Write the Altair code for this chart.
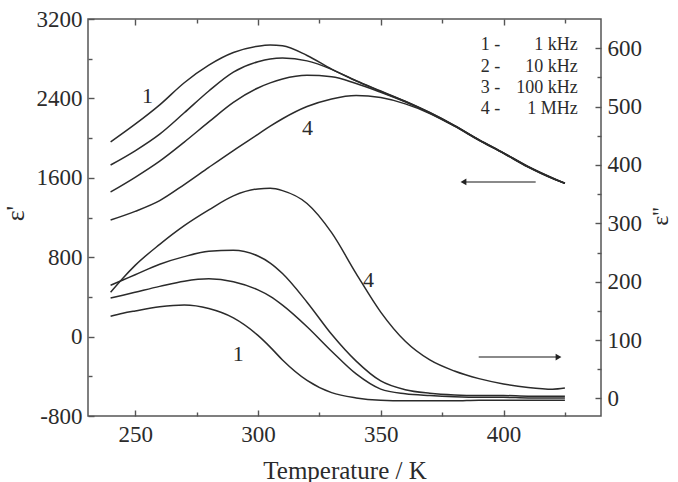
import altair as alt
import pandas as pd

# ---- data -------------------------------------------------------------
FREQS = ["1 kHz", "10 kHz", "100 kHz", "1 MHz"]

# real part eps' (left axis)
T_REAL = [240, 250, 260, 270, 280, 290, 300, 305, 310, 320, 330,
          340, 350, 360, 370, 380, 390, 400, 410, 420, 425]
EPS_REAL_1K = [1961, 2140, 2335, 2558, 2735, 2862, 2926, 2938, 2930, 2832, 2695,
               2578, 2475, 2372, 2258, 2128, 1985, 1852, 1714, 1598, 1545]
EPS_REAL_10K = [1729, 1872, 2040, 2255, 2475, 2665, 2770, 2798, 2806, 2778, 2693,
                2576, 2470, 2369, 2255, 2126, 1983, 1850, 1712, 1596, 1545]
EPS_REAL_100K = [1457, 1605, 1768, 1960, 2163, 2360, 2505, 2556, 2595, 2632, 2618,
                 2550, 2462, 2365, 2252, 2123, 1980, 1848, 1710, 1594, 1545]
EPS_REAL_1M = [1175, 1262, 1370, 1532, 1705, 1875, 2038, 2120, 2195, 2318, 2395,
               2430, 2408, 2345, 2248, 2120, 1978, 1846, 1708, 1592, 1545]

# imaginary part eps'' (right axis)
T_IMAG = [240, 245, 250, 260, 270, 280, 290, 300, 305, 310, 320, 330,
          340, 350, 360, 370, 380, 390, 400, 410, 420, 425]
EPS_IMAG_1K = [141, 146, 150, 157, 160, 154, 138, 108, 88, 66, 31, 10,
               1, -3, -4, -4, -4, -3, -3, -3, -3, -3]
EPS_IMAG_10K = [172, 177, 182, 192, 201, 205, 200, 186, 175, 160, 123, 81,
                42, 16, 8, 5, 3, 2, 2, 1, 1, 1]
EPS_IMAG_100K = [194, 203, 212, 230, 243, 252, 254, 244, 232, 214, 165, 110,
                 64, 30, 15, 9, 6, 5, 5, 4, 4, 4]
EPS_IMAG_1M = [182, 206, 228, 264, 296, 323, 347, 359, 360, 356, 334, 284,
               214, 148, 98, 66, 47, 34, 25, 19, 16, 18]

# legend rows and curve tags
LEGEND_NUM = ["1 -", "2 -", "3 -", "4 -"]
LEGEND_NUM_T = 390.7
LEGEND_FREQ_T = 430.2
LEGEND_Y = [2938, 2716, 2505, 2293]
TAGS_REAL = ["1", "4"]
TAGS_REAL_T = [255, 320.2]
TAGS_REAL_V = [2424, 2102]
TAGS_IMAG = ["4", "1"]
TAGS_IMAG_T = [345, 292]
TAGS_IMAG_V = [203, 76]

# direction arrows (which axis each family belongs to)
ARROW_REAL_T = [383.7, 413.1]
ARROW_REAL_V = 1558
ARROW_IMAG_T = [389.9, 422.4]
ARROW_IMAG_V = 71

# ---- tables -----------------------------------------------------------
def long_table(t, series):
    rows = []
    for name, vals in series.items():
        for x, v in zip(t, vals):
            rows.append({"T": x, "v": v, "curve": name})
    return pd.DataFrame(rows)

real_df = long_table(T_REAL, dict(zip(FREQS, [EPS_REAL_1K, EPS_REAL_10K,
                                               EPS_REAL_100K, EPS_REAL_1M])))
imag_df = long_table(T_IMAG, dict(zip(FREQS, [EPS_IMAG_1K, EPS_IMAG_10K,
                                               EPS_IMAG_100K, EPS_IMAG_1M])))
legend_df = pd.DataFrame({"num": LEGEND_NUM, "freq": FREQS, "v": LEGEND_Y,
                          "tn": [LEGEND_NUM_T] * 4, "tf": [LEGEND_FREQ_T] * 4})
tag_real_df = pd.DataFrame({"t": TAGS_REAL, "T": TAGS_REAL_T, "v": TAGS_REAL_V})
tag_imag_df = pd.DataFrame({"t": TAGS_IMAG, "T": TAGS_IMAG_T, "v": TAGS_IMAG_V})
arrow_real_df = pd.DataFrame({"T": [ARROW_REAL_T[0]], "T2": [ARROW_REAL_T[1]],
                              "v": [ARROW_REAL_V]})
arrow_imag_df = pd.DataFrame({"T": [ARROW_IMAG_T[0]], "T2": [ARROW_IMAG_T[1]],
                              "v": [ARROW_IMAG_V]})

# ---- styling ------------------------------------------------------------
FONT = "Liberation Serif"
INK = "#2b2b2b"
FRAME = "#555555"
PLAIN_NUMBER = "'' + datum.value"   # keeps an ASCII hyphen for negatives

x_scale = alt.Scale(domain=[230.8, 439.7], nice=False, zero=False)
y_real = alt.Scale(domain=[-800, 3200], nice=False, zero=False)
y_imag = alt.Scale(domain=[-30, 650], nice=False, zero=False)


def tick_axis(orient, values, size, **kw):
    """Axis drawing inward ticks only (no labels, no domain)."""
    opts = dict(orient=orient, values=values, labels=False, title=None,
                domain=False, grid=False, tickSize={"expr": str(-size)},
                tickColor=FRAME, tickWidth=1.4)
    opts.update(kw)
    return alt.Axis(**opts)


line_style = dict(color=INK, strokeWidth=1.5, interpolate="monotone")

real_lines = alt.Chart(real_df).mark_line(**line_style).encode(
    x=alt.X("T:Q", scale=x_scale, axis=alt.Axis(
        orient="bottom", values=[250, 300, 350, 400], title="Temperature / K",
        labelExpr=PLAIN_NUMBER, domain=False, grid=False,
        tickSize={"expr": "-6"}, tickColor=FRAME, tickWidth=1.4,
        labelPadding=13, labelFont=FONT, labelFontSize=23, labelColor=INK,
        titleFont=FONT, titleFontSize=25, titleFontWeight="normal",
        titleColor=INK, titleBaseline="alphabetic", titleY=62)),
    y=alt.Y("v:Q", scale=y_real, axis=alt.Axis(
        orient="left", values=[-800, 0, 800, 1600, 2400, 3200], title="ε'",
        labelExpr=PLAIN_NUMBER, domain=False, grid=False,
        tickSize={"expr": "-6"}, tickColor=FRAME, tickWidth=1.4,
        labelPadding=12, labelFont=FONT, labelFontSize=23, labelColor=INK,
        titleFont=FONT, titleFontSize=26, titleFontWeight="normal",
        titleColor=INK, titleAngle=270, titleBaseline="alphabetic",
        titleX=-65, titleY=194)),
    detail="curve:N",
)

imag_lines = alt.Chart(imag_df).mark_line(**line_style).encode(
    x=alt.X("T:Q", scale=x_scale,
            axis=tick_axis("top", [250, 300, 350, 400], 6)),
    y=alt.Y("v:Q", scale=y_imag, axis=alt.Axis(
        orient="right", values=[0, 100, 200, 300, 400, 500, 600], title="ε''",
        labelExpr=PLAIN_NUMBER, domain=False, grid=False,
        tickSize={"expr": "-6"}, tickColor=FRAME, tickWidth=1.4,
        labelPadding=12, labelFont=FONT, labelFontSize=23, labelColor=INK,
        titleFont=FONT, titleFontSize=24, titleFontWeight="normal",
        titleColor=INK, titleAngle=270, titleBaseline="alphabetic",
        titleX=66, titleY=197)),
    detail="curve:N",
)

# arrows: the one for eps' also carries the bottom/left minor ticks,
# the one for eps'' carries the top/right minor ticks
arrow_real = alt.Chart(arrow_real_df).mark_rule(color="#8a8a8a", strokeWidth=2).encode(
    x=alt.X("T:Q", scale=x_scale,
            axis=tick_axis("bottom", [275, 325, 375, 425], 4)),
    x2="T2:Q",
    y=alt.Y("v:Q", scale=y_real,
            axis=tick_axis("left", [-400, 400, 1200, 2000, 2800], 4)),
)
arrow_real_head = alt.Chart(arrow_real_df).mark_point(
    shape="triangle-left", filled=True, color="#222", size=45, opacity=1).encode(
    x=alt.X("T:Q", scale=x_scale, axis=None),
    y=alt.Y("v:Q", scale=y_real, axis=None),
)
arrow_imag = alt.Chart(arrow_imag_df).mark_rule(color="#8a8a8a", strokeWidth=2).encode(
    x=alt.X("T:Q", scale=x_scale,
            axis=tick_axis("top", [275, 325, 375, 425], 4)),
    x2="T2:Q",
    y=alt.Y("v:Q", scale=y_imag,
            axis=tick_axis("right", [50, 150, 250, 350, 450, 550], 4)),
)
arrow_imag_head = alt.Chart(arrow_imag_df).mark_point(
    shape="triangle-right", filled=True, color="#222", size=45, opacity=1).encode(
    x=alt.X("T2:Q", scale=x_scale, axis=None),
    y=alt.Y("v:Q", scale=y_imag, axis=None),
)

text_style = dict(font=FONT, color=INK, baseline="middle")

legend_num = alt.Chart(legend_df).mark_text(
    align="left", fontSize=18, **text_style).encode(
    x=alt.X("tn:Q", scale=x_scale, axis=None),
    y=alt.Y("v:Q", scale=y_real, axis=None),
    text="num:N",
)
legend_freq = alt.Chart(legend_df).mark_text(
    align="right", fontSize=18, **text_style).encode(
    x=alt.X("tf:Q", scale=x_scale, axis=None),
    y=alt.Y("v:Q", scale=y_real, axis=None),
    text="freq:N",
)
tags_real = alt.Chart(tag_real_df).mark_text(
    align="center", fontSize=22, **text_style).encode(
    x=alt.X("T:Q", scale=x_scale, axis=None),
    y=alt.Y("v:Q", scale=y_real, axis=None),
    text="t:N",
)
tags_imag = alt.Chart(tag_imag_df).mark_text(
    align="center", fontSize=22, **text_style).encode(
    x=alt.X("T:Q", scale=x_scale, axis=None),
    y=alt.Y("v:Q", scale=y_imag, axis=None),
    text="t:N",
)

chart = alt.layer(
    real_lines, imag_lines, arrow_real, arrow_real_head, arrow_imag,
    arrow_imag_head, legend_num, legend_freq, tags_real, tags_imag,
).resolve_scale(
    x="shared", y="independent"
).resolve_axis(
    x="independent", y="independent"
).properties(
    width=513, height=397,
    autosize=alt.AutoSizeParams(type="none"),
    padding={"left": 88, "top": 19, "right": 77, "bottom": 66},
    background="white",
).configure_view(
    stroke=FRAME, strokeWidth=1.5
)

chart.save("out.html", embed_options={"renderer": "svg", "actions": False})
